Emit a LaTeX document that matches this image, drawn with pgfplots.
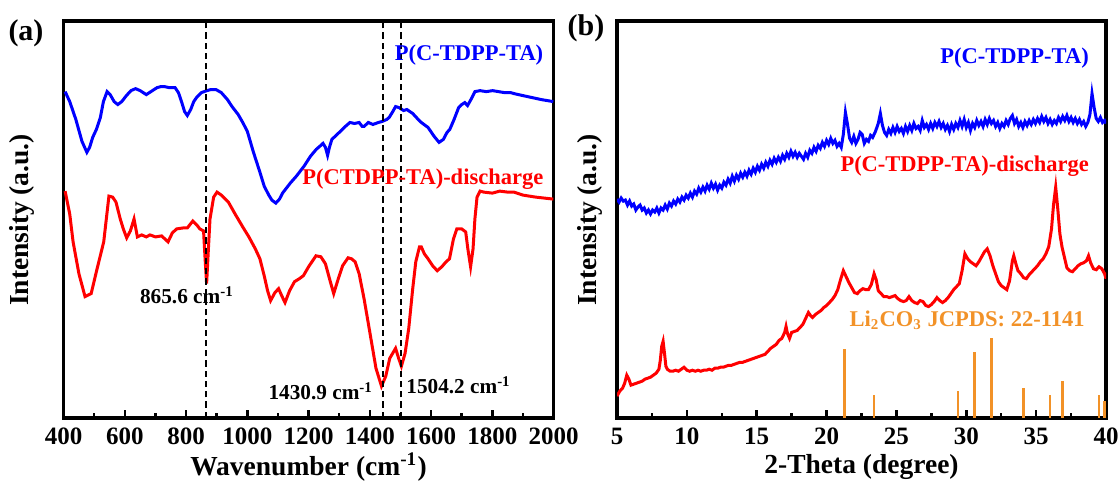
\documentclass[border=0pt]{standalone}
\usepackage{fontspec}
\setmainfont{Liberation Serif}
\usepackage{pgfplots}
\pgfplotsset{compat=1.18}
\definecolor{lico}{RGB}{242,146,40}

\pgfplotsset{
  panel/.style={
    scale only axis, anchor=south west,
    height=158.8pt, ymin=0, ymax=399, ytick=\empty,
    axis line style={line width=1.3pt},
    xtick pos=left,
    tick style={line width=1pt, black},
    major tick length=3.2pt, minor tick length=1.8pt,
    minor x tick num=1,
    ticklabel style={font=\fontsize{10}{10}\selectfont\bfseries},
    xticklabel style={yshift=-0.5pt},
    /pgf/number format/assume math mode=true,
    /pgf/number format/set thousands separator={},
  },
  curve/.style={line width=1.2pt},
}
\tikzset{vline/.style={black, line width=0.7pt, dash pattern=on 2.5pt off 1.6pt}}

\begin{document}
\begin{tikzpicture}
\useasboundingbox (0,0) rectangle (448pt,194.4pt);

% (a) FTIR
\begin{axis}[panel, at={(25.44pt,27.2pt)}, width=196pt,
  xmin=400, xmax=2000, xtick={400,600,...,2000}]
\addplot[curve, blue] coordinates {
(405,328) (420,318) (440,300) (460,278) (476,267) (485,272) (495,282) (507,290)
(520,302) (530,318) (542,328) (552,325) (565,318) (577,315) (590,318) (605,324)
(620,329) (635,331) (650,329) (670,325) (690,329) (705,332) (717,333) (730,333)
(745,332) (764,332) (775,327) (785,318) (795,308) (804,304) (815,310) (825,318)
(834,322) (850,327) (868,329) (880,330) (898,330) (915,327) (935,320) (950,313)
(970,305) (985,297) (1000,288) (1020,267) (1040,248) (1055,233) (1070,224) (1080,219)
(1093,216) (1105,220) (1115,226) (1125,230) (1140,236) (1160,243) (1185,253) (1206,263)
(1225,270) (1240,274) (1247,276) (1255,272) (1262,264) (1268,272) (1276,280) (1300,287)
(1320,293) (1335,297) (1350,296) (1365,297) (1375,293) (1381,293) (1395,297) (1410,295)
(1428,297) (1440,298) (1455,300) (1463,302) (1475,308) (1484,313) (1495,312) (1510,309)
(1521,310) (1540,306) (1555,301) (1568,297) (1590,292) (1610,283) (1626,277) (1640,280)
(1652,287) (1661,290) (1675,300) (1690,312) (1700,315) (1710,317) (1719,314) (1730,320)
(1743,328) (1760,329) (1780,328) (1801,329) (1820,328) (1840,327) (1860,327) (1871,326)
(1900,324) (1930,322) (1960,320) (1999,318)
};
\addplot[curve, red] coordinates {
(405,228) (420,205) (431,177) (450,145) (470,122) (490,125) (507,147) (531,177)
(548,223) (560,222) (571,217) (585,200) (595,190) (606,181) (618,188) (630,200)
(641,182) (655,184) (670,182) (682,184) (700,182) (720,183) (741,177) (755,186)
(769,190) (790,191) (804,191) (822,198) (835,194) (845,190) (857,188) (862,160)
(867,135) (872,165) (878,200) (890,222) (901,227) (915,224) (938,217) (960,205)
(985,192) (1005,182) (1026,170) (1041,160) (1055,143) (1066,128) (1076,118) (1090,126)
(1102,130) (1112,123) (1123,116) (1138,128) (1154,137) (1170,140) (1183,143) (1200,152)
(1224,163) (1240,162) (1255,155) (1270,138) (1282,125) (1295,138) (1311,153) (1329,161)
(1340,160) (1352,157) (1365,145) (1381,120) (1395,95) (1405,77) (1420,50) (1438,32)
(1452,42) (1465,60) (1484,70) (1494,60) (1503,52) (1515,65) (1527,90) (1540,130)
(1550,157) (1562,172) (1568,172) (1578,165) (1590,160) (1605,153) (1620,148) (1635,152)
(1649,157) (1660,160) (1673,180) (1684,190) (1700,190) (1713,187) (1720,170) (1729,152)
(1737,170) (1743,200) (1750,222) (1760,228) (1772,227) (1800,226) (1824,228) (1850,227)
(1871,227) (1900,224) (1941,222) (1970,221) (1999,220)
};
\draw[vline] (axis cs:866,0) -- (axis cs:866,399);
\draw[vline] (axis cs:1442,0) -- (axis cs:1442,399);
\draw[vline] (axis cs:1501,0) -- (axis cs:1501,399);
\node[anchor=east, blue, font=\fontsize{9}{9}\selectfont\bfseries] at (axis cs:1995,365) {P(C-TDPP-TA)};
\node[anchor=east, red, font=\fontsize{9}{9}\selectfont\bfseries] at (axis cs:1995,240) {P(CTDPP-TA)-discharge};
\node[font=\fontsize{8.5}{8.5}\selectfont\bfseries] at (axis cs:803,123) {865.6 cm\textsuperscript{-1}};
\node[font=\fontsize{8.5}{8.5}\selectfont\bfseries] at (axis cs:1240,27) {1430.9 cm\textsuperscript{-1}};
\node[font=\fontsize{8.5}{8.5}\selectfont\bfseries] at (axis cs:1690,33) {1504.2 cm\textsuperscript{-1}};
\end{axis}

% (b) XRD
\begin{axis}[panel, at={(246.8pt,27.2pt)}, width=195.6pt,
  xmin=5, xmax=40, xtick={5,10,...,40}]
\addplot[curve, blue] coordinates {
(5.00,220) (5.15,217) (5.30,221) (5.45,218) (5.60,219) (5.75,214) (5.90,218) (6.05,213)
(6.20,215) (6.35,209) (6.50,212) (6.65,214) (6.80,209) (6.95,211) (7.10,206) (7.25,209)
(7.40,205) (7.55,209) (7.70,207) (7.85,211) (8.00,206) (8.15,211) (8.30,209) (8.45,214)
(8.60,210) (8.75,216) (8.90,213) (9.05,218) (9.20,215) (9.35,220) (9.50,217) (9.65,222)
(9.80,219) (9.95,224) (10.10,221) (10.25,226) (10.40,222) (10.55,228) (10.70,225) (10.85,231)
(11.00,227) (11.15,232) (11.30,228) (11.45,234) (11.60,230) (11.75,236) (11.90,231) (12.05,235)
(12.20,229) (12.35,234) (12.50,231) (12.65,237) (12.80,234) (12.95,240) (13.10,236) (13.25,243)
(13.40,238) (13.55,244) (13.70,240) (13.85,246) (14.00,242) (14.15,247) (14.30,243) (14.45,249)
(14.60,245) (14.75,251) (14.90,247) (15.05,253) (15.20,249) (15.35,255) (15.50,251) (15.65,257)
(15.80,253) (15.95,259) (16.10,255) (16.25,261) (16.40,257) (16.55,262) (16.70,258) (16.85,264)
(17.00,260) (17.15,266) (17.30,262) (17.45,268) (17.60,263) (17.75,267) (17.90,262) (18.05,266)
(18.20,263) (18.35,260) (18.50,266) (18.65,262) (18.80,269) (18.95,266) (19.10,272) (19.25,268)
(19.40,274) (19.55,271) (19.70,277) (19.85,273) (20.00,279) (20.15,275) (20.30,281) (20.45,276)
(20.60,279) (20.75,273) (20.90,276) (21.05,272) (21.20,285) (21.35,307) (21.50,295) (21.65,281)
(21.80,277) (21.95,283) (22.10,276) (22.25,280) (22.40,287) (22.55,285) (22.70,276) (22.85,280)
(23.00,278) (23.15,284) (23.30,282) (23.50,288) (23.70,296) (23.85,306) (24.00,294) (24.15,287)
(24.30,284) (24.45,290) (24.60,286) (24.75,292) (24.90,287) (25.05,293) (25.20,288) (25.35,291)
(25.50,286) (25.65,293) (25.80,288) (25.95,294) (26.10,289) (26.25,296) (26.40,291) (26.55,293)
(26.70,289) (26.85,299) (27.00,292) (27.15,295) (27.30,290) (27.45,296) (27.60,291) (27.75,297)
(27.90,293) (28.05,298) (28.20,292) (28.35,296) (28.50,290) (28.65,294) (28.80,288) (28.95,295)
(29.10,290) (29.25,296) (29.40,292) (29.55,299) (29.70,293) (29.85,300) (30.00,292) (30.15,297)
(30.30,289) (30.45,296) (30.60,292) (30.75,299) (30.90,294) (31.05,298) (31.20,293) (31.35,300)
(31.50,295) (31.65,301) (31.80,296) (31.95,299) (32.10,293) (32.25,297) (32.40,291) (32.55,296)
(32.70,293) (32.85,299) (33.00,295) (33.15,301) (33.30,304) (33.45,296) (33.60,300) (33.75,293)
(33.90,297) (34.05,292) (34.20,298) (34.35,294) (34.50,299) (34.65,295) (34.80,300) (34.95,296)
(35.10,301) (35.25,297) (35.40,303) (35.55,298) (35.70,302) (35.85,296) (36.00,300) (36.15,295)
(36.30,299) (36.45,296) (36.60,302) (36.75,298) (36.90,303) (37.05,299) (37.20,304) (37.35,298)
(37.50,302) (37.65,297) (37.80,301) (37.95,296) (38.10,300) (38.25,295) (38.40,298) (38.55,293)
(38.70,297) (38.85,305) (39.00,326) (39.15,312) (39.30,301) (39.45,298) (39.60,302) (39.75,297)
(39.90,299) (40.00,296)
};
\addplot[curve, red] coordinates {
(5.00,22) (5.20,27) (5.40,30) (5.55,35) (5.70,43) (5.85,39) (6.00,33) (6.20,34)
(6.40,35) (6.60,36) (6.80,37) (7.00,39) (7.20,40) (7.40,41) (7.60,43) (7.80,45)
(8.00,49) (8.10,58) (8.20,72) (8.30,77) (8.40,65) (8.50,52) (8.60,49) (8.80,47)
(9.00,47) (9.20,48) (9.40,47) (9.60,49) (9.80,51) (10.00,48) (10.20,47) (10.40,48)
(10.60,47) (10.80,48) (11.00,47) (11.20,48) (11.40,48) (11.60,49) (11.80,48) (12.00,50)
(12.20,50) (12.40,51) (12.60,51) (12.80,52) (13.00,53) (13.20,53) (13.40,54) (13.60,55)
(13.80,56) (14.00,56) (14.20,57) (14.40,58) (14.60,59) (14.80,60) (15.00,61) (15.20,62)
(15.40,63) (15.60,64) (15.80,67) (16.00,70) (16.20,72) (16.40,74) (16.60,78) (16.80,80)
(17.00,86) (17.10,92) (17.20,85) (17.35,80) (17.50,86) (17.70,87) (17.90,88) (18.10,91)
(18.30,94) (18.50,100) (18.70,106) (18.85,103) (19.00,101) (19.20,104) (19.40,106) (19.60,108)
(19.80,111) (20.00,113) (20.20,116) (20.40,119) (20.60,123) (20.80,129) (21.00,139) (21.20,148)
(21.40,142) (21.60,136) (21.80,131) (22.00,126) (22.20,125) (22.40,128) (22.60,130) (22.80,129)
(23.00,129) (23.20,134) (23.40,145) (23.55,139) (23.70,128) (23.90,125) (24.10,122) (24.30,122)
(24.50,121) (24.70,122) (24.90,123) (25.10,120) (25.30,118) (25.50,117) (25.70,118) (25.90,122)
(26.10,118) (26.30,116) (26.50,115) (26.70,118) (26.90,117) (27.10,113) (27.30,112) (27.50,114)
(27.70,117) (27.90,121) (28.10,118) (28.30,116) (28.50,118) (28.70,121) (28.90,125) (29.10,129)
(29.30,132) (29.50,135) (29.70,148) (29.90,165) (30.10,160) (30.30,157) (30.50,155) (30.70,153)
(30.90,157) (31.10,162) (31.30,167) (31.50,170) (31.70,163) (31.90,153) (32.10,145) (32.30,137)
(32.50,133) (32.70,131) (32.90,129) (33.10,138) (33.30,158) (33.40,163) (33.55,155) (33.70,148)
(33.90,145) (34.10,141) (34.30,140) (34.50,144) (34.70,147) (34.90,150) (35.10,153) (35.30,157)
(35.50,160) (35.70,165) (35.90,172) (36.10,190) (36.25,215) (36.40,232) (36.55,210) (36.70,185)
(36.85,172) (37.00,163) (37.20,151) (37.40,148) (37.60,147) (37.80,150) (38.00,153) (38.20,155)
(38.40,156) (38.60,158) (38.75,163) (38.90,156) (39.10,150) (39.30,149) (39.50,152) (39.70,150)
(39.90,145) (40.00,140)
};
\addplot[ycomb, lico, line width=1pt, no marks] coordinates {
(21.3,69) (23.4,23) (29.4,27) (30.6,66) (31.8,80) (34.1,30) (36.0,23) (36.9,37) (39.5,23) (39.9,17)
};
\node[anchor=east, blue, font=\fontsize{9}{9}\selectfont\bfseries] at (axis cs:39.4,362) {P(C-TDPP-TA)};
\node[anchor=east, red, font=\fontsize{9}{9}\selectfont\bfseries] at (axis cs:39.4,253) {P(C-TDPP-TA)-discharge};
\node[anchor=east, lico, font=\fontsize{9}{9}\selectfont\bfseries] at (axis cs:39.1,98) {Li\textsubscript{2}CO\textsubscript{3} JCPDS: 22-1141};
\end{axis}

\node[font=\fontsize{12}{12}\selectfont\bfseries] at (10.4pt,181.2pt) {(a)};
\node[font=\fontsize{12}{12}\selectfont\bfseries] at (234.4pt,183.2pt) {(b)};
\node[rotate=90, font=\fontsize{11}{11}\selectfont\bfseries] at (8.8pt,106.4pt) {Intensity (a.u.)};
\node[rotate=90, font=\fontsize{11}{11}\selectfont\bfseries] at (236pt,106.4pt) {Intensity (a.u.)};
\node[font=\fontsize{11}{11}\selectfont\bfseries] at (123.4pt,7.6pt) {Wavenumber (cm\textsuperscript{-1})};
\node[font=\fontsize{11}{11}\selectfont\bfseries] at (344.6pt,7.6pt) {2-Theta (degree)};
\end{tikzpicture}
\end{document}
